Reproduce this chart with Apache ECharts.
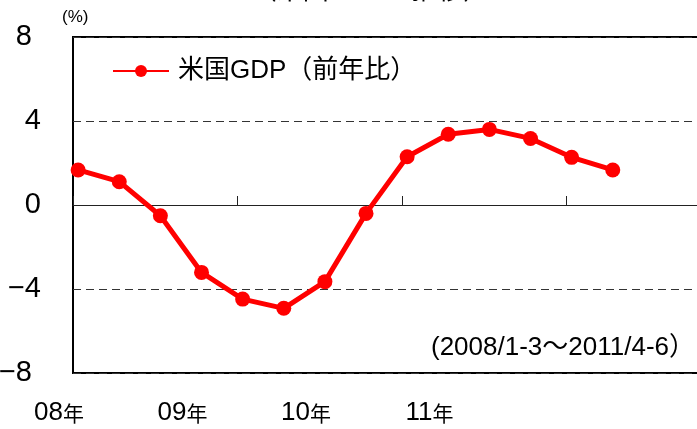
<!DOCTYPE html>
<html>
<head>
<meta charset="utf-8">
<script src="https://cdn.jsdelivr.net/npm/echarts@6/dist/echarts.min.js"></script>
<style>html,body{margin:0;padding:0;background:#fff;overflow:hidden;width:697px;height:429px;}#c{width:760px;height:429px;}</style>
</head>
<body>
<div id="c"></div>
<script>
// Quarters 2008 Q1 .. 2011 Q2
const quarters = ['2008Q1','2008Q2','2008Q3','2008Q4','2009Q1','2009Q2','2009Q3','2009Q4','2010Q1','2010Q2','2010Q3','2010Q4','2011Q1','2011Q2'];
const gdpYoY = [1.67, 1.11, -0.51, -3.21, -4.48, -4.92, -3.65, -0.40, 2.30, 3.37, 3.60, 3.17, 2.27, 1.67];
const yearLabels = ['08','09','10','11',''];
const yearSuffix = '年';
const seriesName = '米国GDP（前年比）';
const noteText = '(2008/1-3～2011/4-6）';
const titleText = '（米国GDPの推移）';
const unitText = '(%)';

const CJK = '"Noto Sans CJK JP"';
const SANS = '"Liberation Sans", ' + CJK + ', sans-serif';
const NARROW = '"Liberation Sans Narrow", "Liberation Sans", ' + CJK + ', sans-serif';
const chart = echarts.init(document.getElementById('c'), null, {renderer:'canvas'});
const lineData = quarters.map((q, i) => [i + 0.125, gdpYoY[i]]);

chart.setOption({
  animation: false,
  backgroundColor: '#fff',
  textStyle: {fontFamily: SANS},
  grid: [
    {left: 73, top: 37, width: 658, height: 336, show: true, borderColor: '#000', borderWidth: 2, backgroundColor: 'transparent', containLabel: false, outerBoundsMode: 'none'},
    {left: 59, top: 395, width: 494, height: 1, show: false, containLabel: false, outerBoundsMode: 'none'}
  ],
  legend: {
    left: 112, top: 58, padding: 0,
    itemWidth: 56, itemHeight: 15,
    textStyle: {fontSize: 26, color: '#000', fontFamily: SANS, padding: [0,0,0,4]},
    data: [seriesName]
  },
  xAxis: [
    {type: 'value', gridIndex: 0, min: 0, max: 16, interval: 4,
     axisLine: {onZero: true, lineStyle: {color: '#222', width: 1}},
     axisTick: {show: true, inside: true, length: 9, lineStyle: {color: '#222', width: 1}},
     axisLabel: {show: false}, splitLine: {show: false}},
    {type: 'category', gridIndex: 1, data: yearLabels, boundaryGap: false,
     axisLine: {show: false}, axisTick: {show: false},
     axisLabel: {margin: 4, formatter: v => v ? '{d|' + v + '}{n|' + yearSuffix + '}' : '',
       rich: {d: {fontSize: 26, color: '#000', fontFamily: NARROW},
              n: {fontSize: 21, color: '#000', fontFamily: CJK}}}}
  ],
  yAxis: [
    {type: 'value', gridIndex: 0, min: -8, max: 8, interval: 4,
     axisLine: {show: false}, axisTick: {show: false},
     axisLabel: {fontSize: 29, color: '#000', margin: 32, fontFamily: NARROW,
       formatter: v => { const s = (v < 0 ? '−' : '') + Math.abs(v); return Math.abs(v) === 8 ? '{e|' + s + '}' : s; },
       rich: {e: {fontSize: 29, color: '#000', fontFamily: NARROW, padding: [0, 9, 0, 0]}}},
     splitLine: {show: true, lineStyle: {color: '#333', type: [8, 5], width: 1}}},
    {type: 'value', gridIndex: 1, show: false}
  ],
  series: [{
    name: seriesName, type: 'line', xAxisIndex: 0, yAxisIndex: 0,
    data: lineData,
    symbol: 'circle', symbolSize: 15,
    lineStyle: {color: '#ff0000', width: 5},
    itemStyle: {color: '#ff0000'}
  }],
  graphic: [
    {type: 'text', left: 62, top: 9, style: {text: unitText, fontSize: 17, fill: '#000', fontFamily: NARROW}},
    {type: 'text', x: 695, y: 348, style: {text: noteText, fontSize: 26, fill: '#000', fontFamily: SANS, textAlign: 'right', textVerticalAlign: 'middle'}},
    {type: 'text', x: 370, y: 5, style: {text: titleText, fontSize: 26, fill: '#000', fontFamily: SANS, textAlign: 'center', textVerticalAlign: 'bottom'}}
  ]
});
</script>
</body>
</html>
